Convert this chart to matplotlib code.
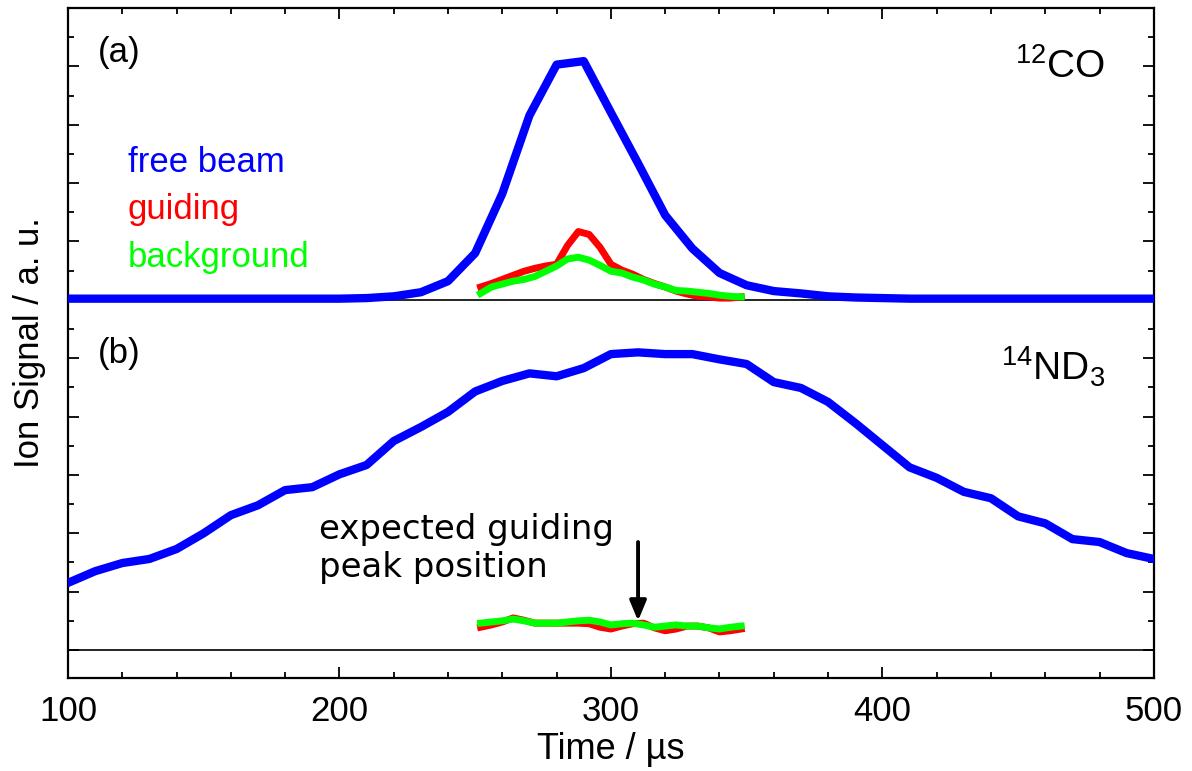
import matplotlib
matplotlib.use("Agg")
import matplotlib.pyplot as plt
from matplotlib.ticker import MultipleLocator, NullFormatter

plt.rcParams["font.family"] = ["Liberation Sans", "DejaVu Sans"]

# time axes (us)
t_beam = [100, 110, 120, 130, 140, 150, 160, 170, 180, 190, 200, 210, 220, 230, 240,
          250, 260, 270, 280, 290, 300, 310, 320, 330, 340, 350, 360, 370, 380, 390,
          400, 410, 420, 430, 440, 450, 460, 470, 480, 490, 500]
t_guide = [252, 256, 260, 264, 268, 272, 276, 280, 284, 288, 292, 296, 300,
           304, 308, 312, 316, 320, 324, 328, 332, 336, 340, 344, 348]

# (a) 12CO
co_free = [0.02, 0.02, 0.02, 0.02, 0.02, 0.02, 0.02, 0.02, 0.02, 0.02, 0.02, 0.03, 0.06, 0.13, 0.32,
           0.80, 1.82, 3.16, 4.03, 4.09, 3.21, 2.34, 1.45, 0.88, 0.46, 0.25, 0.15, 0.11, 0.06, 0.04,
           0.03, 0.02, 0.02, 0.02, 0.02, 0.02, 0.02, 0.02, 0.02, 0.02, 0.02]
co_guiding = [0.22, 0.28, 0.35, 0.42, 0.49, 0.54, 0.58, 0.61, 0.93, 1.17, 1.12, 0.90, 0.61,
              0.51, 0.44, 0.35, 0.28, 0.22, 0.15, 0.10, 0.06, 0.05, 0.03, 0.03, 0.05]
co_background = [0.11, 0.22, 0.27, 0.32, 0.35, 0.40, 0.49, 0.58, 0.70, 0.73, 0.68, 0.59, 0.49,
                 0.46, 0.39, 0.34, 0.27, 0.22, 0.16, 0.15, 0.13, 0.11, 0.08, 0.06, 0.05]

# (b) 14ND3
nd3_free = [1.15, 1.35, 1.49, 1.56, 1.73, 2.00, 2.31, 2.48, 2.74, 2.79, 3.01, 3.17, 3.58, 3.82, 4.08,
            4.43, 4.61, 4.74, 4.69, 4.83, 5.07, 5.10, 5.07, 5.07, 4.98, 4.90, 4.59, 4.49, 4.25, 3.89,
            3.51, 3.13, 2.95, 2.71, 2.60, 2.29, 2.17, 1.90, 1.85, 1.66, 1.56]
nd3_guiding = [0.39, 0.43, 0.48, 0.55, 0.51, 0.46, 0.46, 0.46, 0.46, 0.46, 0.45, 0.39, 0.36,
               0.41, 0.45, 0.46, 0.38, 0.33, 0.36, 0.41, 0.41, 0.38, 0.31, 0.33, 0.36]
nd3_background = [0.46, 0.48, 0.50, 0.53, 0.50, 0.46, 0.46, 0.46, 0.48, 0.50, 0.51, 0.48, 0.43,
                  0.45, 0.46, 0.43, 0.39, 0.41, 0.43, 0.41, 0.41, 0.38, 0.36, 0.39, 0.41]

offset_a = 6.0
offset_b = 0.0
blue, red, green = "#0000ff", "#ff0000", "#00ff00"

fig = plt.figure(figsize=(11.92, 7.71), dpi=100)
ax = fig.add_axes([0.057, 0.1206, 0.911, 0.869])

ax.axhline(offset_a, color="black", lw=1.2, zorder=1)
ax.axhline(offset_b, color="black", lw=1.2, zorder=1)

ax.plot(t_beam, [v + offset_a for v in co_free], color=blue, lw=6.0, zorder=3)
ax.plot(t_guide, [v + offset_a for v in co_guiding], color=red, lw=5.0, zorder=4)
ax.plot(t_guide, [v + offset_a for v in co_background], color=green, lw=5.0, zorder=5)

ax.plot(t_beam, [v + offset_b for v in nd3_free], color=blue, lw=6.0, zorder=3)
ax.plot(t_guide, [v + offset_b for v in nd3_guiding], color=red, lw=5.0, zorder=4)
ax.plot(t_guide, [v + offset_b for v in nd3_background], color=green, lw=5.0, zorder=5)

ax.set_xlim(100, 500)
ax.set_ylim(-0.48, 11.0)
ax.xaxis.set_major_locator(MultipleLocator(100))
ax.xaxis.set_minor_locator(MultipleLocator(20))
ax.yaxis.set_major_locator(MultipleLocator(1))
ax.yaxis.set_minor_locator(MultipleLocator(0.5))
ax.yaxis.set_major_formatter(NullFormatter())
ax.tick_params(which="both", direction="in", top=True, right=True, width=1.3, colors="black")
ax.tick_params(axis="y", which="major", length=8)
ax.tick_params(axis="y", which="minor", length=4)
ax.tick_params(axis="x", which="major", length=8, labelsize=25, pad=12)
ax.tick_params(axis="x", which="minor", length=4.5)
for s in ax.spines.values():
    s.set_linewidth(1.6)

ax.set_xlabel("Time / µs", fontsize=26, labelpad=3)
ax.set_ylabel("Ion Signal / a. u.", fontsize=25, labelpad=12)

ax.text(0.028, 0.934, "(a)", transform=ax.transAxes, fontsize=25, va="center")
ax.text(0.028, 0.485, "(b)", transform=ax.transAxes, fontsize=25, va="center")
ax.text(0.955, 0.912, r"$\mathregular{^{12}CO}$", transform=ax.transAxes, fontsize=28,
        ha="right", va="center")
ax.text(0.955, 0.464, r"$\mathregular{^{14}ND_3}$", transform=ax.transAxes, fontsize=28,
        ha="right", va="center")

ax.text(0.055, 0.769, "free beam", transform=ax.transAxes, fontsize=25, color=blue, va="center")
ax.text(0.055, 0.699, "guiding", transform=ax.transAxes, fontsize=25, color=red, va="center")
ax.text(0.055, 0.628, "background", transform=ax.transAxes, fontsize=25, color=green, va="center")

ax.text(0.231, 0.193, "expected guiding\npeak position", transform=ax.transAxes, fontsize=24.5,
        family="DejaVu Sans", va="center", linespacing=1.2)
ax.annotate("", xy=(310, 0.5), xytext=(310, 1.85),
            arrowprops=dict(arrowstyle="-|>,head_width=0.5,head_length=1.2", color="black",
                            lw=2.8, shrinkA=0, shrinkB=0))

fig.savefig("out.png", dpi=100)
